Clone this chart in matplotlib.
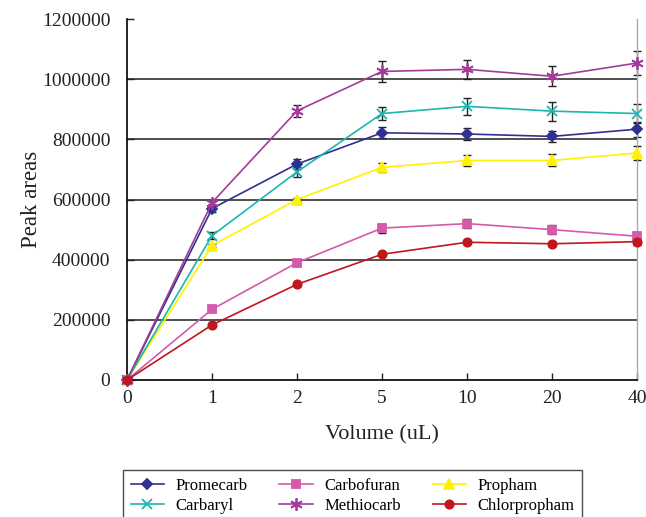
import matplotlib
matplotlib.use("Agg")
import matplotlib.pyplot as plt

plt.rcParams["font.family"] = ["Liberation Serif", "DejaVu Serif"]

volumes = ["0", "1", "2", "5", "10", "20", "40"]

promecarb = [0, 570000, 718000, 822000, 818000, 810000, 834000]
promecarb_err = [0, 10000, 16000, 18000, 19000, 18000, 25000]

carbofuran = [0, 235000, 390000, 505000, 520000, 500000, 478000]
carbofuran_err = [0, 5000, 6000, 15000, 15000, 14000, 12000]

propham = [0, 447000, 600000, 707000, 730000, 730000, 755000]
propham_err = [0, 6000, 5000, 16000, 18000, 20000, 23000]

carbaryl = [0, 480000, 692000, 886000, 910000, 894000, 886000]
carbaryl_err = [0, 12000, 16000, 22000, 29000, 32000, 32000]

methiocarb = [0, 590000, 895000, 1026000, 1033000, 1010000, 1054000]
methiocarb_err = [0, 6000, 20000, 34000, 32000, 34000, 39000]

chlorpropham = [0, 183000, 318000, 418000, 458000, 453000, 460000]
chlorpropham_err = [0, 4000, 5000, 6000, 6000, 6000, 10000]

series = [
    ("Promecarb", promecarb, promecarb_err, "#2E3192", "D", 5.5),
    ("Carbofuran", carbofuran, carbofuran_err, "#D45AAA", "s", 6),
    ("Propham", propham, propham_err, "#FFF200", "^", 7),
    ("Carbaryl", carbaryl, carbaryl_err, "#1DB5AD", "x", 7),
    ("Methiocarb", methiocarb, methiocarb_err, "#A23C98", (6, 2, 0), 9),
    ("Chlorpropham", chlorpropham, chlorpropham_err, "#C1161C", "o", 6),
]

fig = plt.figure(figsize=(6.46, 5.17), dpi=100)
ax = fig.add_axes([0.1966, 0.265, 0.7894, 0.698])

x = list(range(len(volumes)))

for y in [200000, 400000, 600000, 800000, 1000000]:
    ax.axhline(y, color="#4f4f4f", linewidth=1.4, zorder=1)

handles = {}
for name, vals, errs, color, marker, ms in series:
    ax.errorbar(x, vals, yerr=errs, fmt="none", ecolor="#222222",
                elinewidth=1.0, capsize=3, capthick=1.0, zorder=2,
                clip_on=False)
    line, = ax.plot(x, vals, color=color, marker=marker, markersize=ms,
                    markeredgewidth=1.3, linewidth=1.2, zorder=3,
                    clip_on=False)
    handles[name] = line

ax.set_xlim(0, 6)
ax.set_ylim(0, 1200000)
ax.set_xticks(x)
ax.set_xticklabels(volumes)
ax.set_yticks(range(0, 1200001, 200000))
ax.set_yticklabels([str(v) for v in range(0, 1200001, 200000)])

ax.tick_params(axis="both", direction="in", length=5, width=1,
               labelsize=14, colors="#222222")
ax.tick_params(axis="x", pad=7)
ax.tick_params(axis="y", pad=12)

ax.spines["top"].set_visible(False)
ax.spines["right"].set_color("#aaaaaa")
ax.spines["right"].set_linewidth(1.0)
ax.spines["left"].set_linewidth(1.2)
ax.spines["bottom"].set_linewidth(1.2)

ax.set_xlabel("Volume (uL)", fontsize=16, color="#222222", labelpad=13)
ax.set_ylabel("Peak areas", fontsize=16.5, color="#222222", labelpad=0)

order = ["Promecarb", "Carbaryl", "Carbofuran", "Methiocarb",
         "Propham", "Chlorpropham"]
leg = fig.legend([handles[n] for n in order], order, ncol=3,
                 loc="upper left", bbox_to_anchor=(123 / 646, 1 - 470 / 517),
                 borderaxespad=0, frameon=True, fancybox=False,
                 edgecolor="#222222", fontsize=12, handlelength=2.0,
                 columnspacing=1.9, borderpad=0.45, labelspacing=0.25,
                 handletextpad=0.7)
leg.get_frame().set_linewidth(1.0)

fig.savefig("out.png", dpi=100)
